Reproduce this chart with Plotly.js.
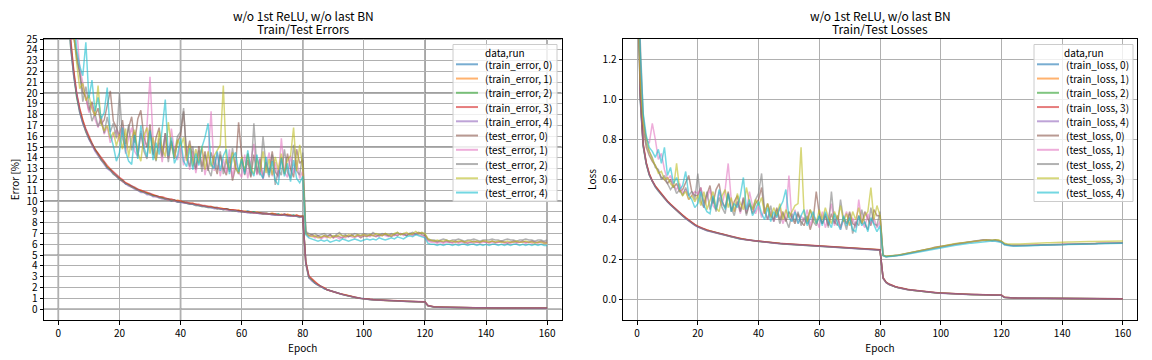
<!DOCTYPE html>
<html><head><meta charset="utf-8">
<script src="https://cdn.plot.ly/plotly-3.0.1.min.js"></script>
<style>html,body{margin:0;padding:0;background:#fff}#chart{width:1152px;height:360px}</style>
</head><body><div id="chart"></div>
<script>
const epochs = [0,1,2,3,4,5,6,7,8,9,10,11,12,13,14,15,16,17,18,19,20,21,22,23,24,25,26,27,28,29,30,31,32,33,34,35,36,37,38,39,40,41,42,43,44,45,46,47,48,49,50,51,52,53,54,55,56,57,58,59,60,61,62,63,64,65,66,67,68,69,70,71,72,73,74,75,76,77,78,79,80,81,82,83,84,85,86,87,88,89,90,91,92,93,94,95,96,97,98,99,100,101,102,103,104,105,106,107,108,109,110,111,112,113,114,115,116,117,118,119,120,121,122,123,124,125,126,127,128,129,130,131,132,133,134,135,136,137,138,139,140,141,142,143,144,145,146,147,148,149,150,151,152,153,154,155,156,157,158,159,160];

const errorNames = ["(train_error, 0)","(train_error, 1)","(train_error, 2)","(train_error, 3)","(train_error, 4)","(test_error, 0)","(test_error, 1)","(test_error, 2)","(test_error, 3)","(test_error, 4)"];
const lossNames = ["(train_loss, 0)","(train_loss, 1)","(train_loss, 2)","(train_loss, 3)","(train_loss, 4)","(test_loss, 0)","(test_loss, 1)","(test_loss, 2)","(test_loss, 3)","(test_loss, 4)"];
const errorYTicks = [0,1,2,3,4,5,6,7,8,9,10,11,12,13,14,15,16,17,18,19,20,21,22,23,24,25];
const errorYMajor = [0,5,10,15,20,25];
const epochTicks = [0,20,40,60,80,100,120,140,160];
const epochMajor = [0,40,80,120,160];
const lossYTicks = [0,0.2,0.4,0.6,0.8,1.0,1.2];

const trainErr0 = [89.5,57.2,40.3,30.1,24.6,21.9,19.7,18.4,17.2,16.6,15.8,15.3,14.7,14.4,13.9,13.6,13.1,12.9,12.6,12.4,
12.1,11.9,11.6,11.5,11.4,11.2,11.1,10.9,10.9,10.7,10.7,10.5,10.5,10.4,10.3,10.2,10.2,10.1,10.1,10.0,
9.9,9.9,9.8,9.8,9.7,9.7,9.6,9.6,9.5,9.5,9.4,9.4,9.4,9.3,9.3,9.3,9.2,9.2,9.1,9.1,
9.1,9.0,9.1,9.0,9.0,8.9,8.9,8.9,8.9,8.8,8.8,8.8,8.8,8.7,8.8,8.7,8.7,8.7,8.6,8.6,
8.6,
4.4,3.0,2.7,2.4,2.3,2.1,1.9,1.8,1.7,1.6,1.5,1.45,1.37,1.3,1.22,1.15,1.1,1.05,1.0,0.96,
0.93,0.9,0.88,0.86,0.84,0.82,0.8,0.79,0.78,0.77,0.76,0.75,0.74,0.73,0.72,0.71,0.7,0.69,0.68,0.67,
0.33,0.24,0.21,0.2,0.19,0.18,0.18,0.17,0.17,0.16,0.16,0.15,0.15,0.15,0.14,0.14,0.14,0.13,0.13,0.13,
0.13,0.12,0.12,0.12,0.12,0.12,0.11,0.11,0.11,0.11,0.11,0.11,0.1,0.1,0.1,0.1,0.1,0.1,0.1,0.1];
const trainErr1 = [90.2,58.1,40.8,30.4,24.9,22.1,19.9,18.5,17.4,16.5,15.9,15.2,14.8,14.3,13.9,13.5,13.2,12.8,12.6,12.3,
12.1,11.8,11.7,11.5,11.3,11.2,11.0,11.0,10.8,10.8,10.6,10.6,10.4,10.4,10.3,10.2,10.1,10.1,10.0,10.1,
10.0,9.9,9.8,9.8,9.8,9.7,9.6,9.6,9.5,9.5,9.5,9.4,9.3,9.4,9.3,9.2,9.2,9.2,9.1,9.2,
9.0,9.1,9.0,9.0,8.9,9.0,8.9,8.8,8.9,8.8,8.9,8.8,8.7,8.8,8.7,8.8,8.7,8.6,8.7,8.6,
8.6,
4.3,3.0,2.7,2.5,2.3,2.1,2.0,1.8,1.7,1.6,1.52,1.44,1.38,1.3,1.23,1.16,1.1,1.04,1.0,0.95,
0.92,0.9,0.88,0.85,0.84,0.82,0.8,0.79,0.78,0.77,0.76,0.75,0.74,0.73,0.72,0.71,0.7,0.69,0.69,0.67,
0.32,0.24,0.21,0.2,0.19,0.18,0.18,0.17,0.17,0.16,0.16,0.15,0.15,0.15,0.14,0.14,0.14,0.13,0.13,0.13,
0.13,0.12,0.12,0.12,0.12,0.11,0.11,0.11,0.11,0.11,0.11,0.1,0.1,0.1,0.1,0.1,0.1,0.1,0.1,0.09];
const trainErr2 = [88.9,56.8,39.9,29.8,24.3,21.7,19.6,18.2,17.3,16.4,15.8,15.3,14.7,14.3,13.8,13.5,13.1,12.9,12.5,12.3,
12.0,11.9,11.6,11.5,11.3,11.2,11.0,10.9,10.8,10.7,10.6,10.5,10.5,10.3,10.3,10.2,10.2,10.0,10.1,9.9,
9.9,9.9,9.8,9.7,9.7,9.6,9.6,9.5,9.5,9.4,9.4,9.4,9.3,9.3,9.2,9.3,9.2,9.1,9.1,9.1,
9.0,9.0,9.0,8.9,9.0,8.9,8.9,8.8,8.8,8.8,8.8,8.7,8.8,8.7,8.7,8.7,8.6,8.7,8.6,8.5,
8.6,
4.2,2.9,2.7,2.4,2.2,2.1,1.9,1.8,1.7,1.6,1.5,1.43,1.36,1.29,1.21,1.15,1.09,1.03,0.99,0.94,
0.91,0.89,0.87,0.85,0.83,0.81,0.8,0.78,0.77,0.76,0.75,0.74,0.73,0.72,0.71,0.7,0.69,0.68,0.67,0.66,
0.31,0.23,0.2,0.19,0.18,0.18,0.17,0.17,0.16,0.16,0.15,0.15,0.15,0.14,0.14,0.14,0.13,0.13,0.13,0.12,
0.12,0.12,0.12,0.11,0.11,0.11,0.11,0.11,0.1,0.1,0.1,0.1,0.1,0.1,0.1,0.09,0.09,0.09,0.09,0.09];
const trainErr3 = [90.5,58.6,40.6,30.6,25.1,22.2,20.0,18.6,17.5,16.7,16.0,15.4,14.8,14.4,14.0,13.7,13.3,13.0,12.7,12.5,
12.2,12.0,11.7,11.6,11.4,11.3,11.1,11.0,10.9,10.8,10.7,10.6,10.5,10.4,10.4,10.3,10.2,10.2,10.1,10.0,
10.0,9.9,9.9,9.8,9.8,9.7,9.7,9.6,9.6,9.5,9.5,9.4,9.4,9.3,9.3,9.3,9.2,9.2,9.2,9.1,
9.1,9.0,9.0,9.0,8.9,8.9,8.9,8.9,8.8,8.8,8.8,8.8,8.7,8.7,8.8,8.7,8.7,8.6,8.7,8.6,
8.6,
4.4,3.1,2.8,2.5,2.3,2.1,2.0,1.8,1.7,1.6,1.5,1.45,1.38,1.3,1.22,1.16,1.1,1.05,1.0,0.96,
0.93,0.91,0.89,0.87,0.85,0.83,0.81,0.8,0.79,0.78,0.77,0.76,0.75,0.74,0.73,0.72,0.71,0.7,0.69,0.68,
0.34,0.25,0.22,0.21,0.2,0.19,0.18,0.18,0.17,0.17,0.16,0.16,0.15,0.15,0.15,0.14,0.14,0.14,0.13,0.13,
0.13,0.13,0.12,0.12,0.12,0.12,0.12,0.11,0.11,0.11,0.11,0.11,0.11,0.1,0.1,0.1,0.1,0.1,0.1,0.1];
const trainErr4 = [89.8,57.5,40.1,30.0,24.4,21.6,19.7,18.2,17.2,16.4,15.7,15.2,14.6,14.2,13.8,13.4,13.0,12.8,12.5,12.2,
12.0,11.8,11.6,11.4,11.3,11.1,11.0,10.8,10.8,10.6,10.6,10.4,10.4,10.3,10.2,10.2,10.1,10.0,10.0,9.9,
9.9,9.8,9.8,9.7,9.7,9.6,9.6,9.5,9.5,9.4,9.4,9.3,9.3,9.3,9.2,9.2,9.1,9.1,9.1,9.0,
9.0,9.0,8.9,8.9,8.9,8.9,8.8,8.8,8.8,8.8,8.7,8.7,8.7,8.7,8.7,8.6,8.6,8.6,8.6,8.5,
8.5,
4.2,2.9,2.6,2.4,2.2,2.1,1.9,1.8,1.7,1.6,1.5,1.43,1.36,1.28,1.2,1.14,1.09,1.03,0.99,0.94,
0.91,0.88,0.86,0.85,0.83,0.81,0.79,0.78,0.77,0.76,0.75,0.74,0.73,0.72,0.71,0.7,0.69,0.68,0.67,0.66,
0.31,0.23,0.2,0.19,0.18,0.17,0.17,0.16,0.16,0.15,0.15,0.15,0.14,0.14,0.14,0.13,0.13,0.13,0.12,0.12,
0.12,0.12,0.11,0.11,0.11,0.11,0.11,0.1,0.1,0.1,0.1,0.1,0.1,0.1,0.09,0.09,0.09,0.09,0.09,0.09];

const testErr0 = [78,52,39,31,27.5,25.2,23.4,21.8,20.1,19.6,18.4,19.2,17.9,18.6,17.1,17.5,18.9,20.2,17.4,16.8,
16.0,17.5,15.3,16.8,17.8,15.4,17.6,18.4,15.9,15.0,17.1,14.3,15.9,16.8,14.2,16.3,14.0,15.6,13.9,15.5,
16.1,18.3,14.2,15.6,13.8,12.9,15.1,13.2,14.6,12.8,14.5,13.4,12.5,14.3,13.0,12.4,14.1,11.9,13.1,17.3,
14.2,12.4,13.8,12.2,14.3,12.5,13.9,12.1,13.6,12.6,14.6,12.7,12.3,14.0,12.5,14.4,13.0,12.2,14.8,13.5,
13.8,
7.1,6.8,6.9,6.7,6.8,6.6,6.8,6.7,6.9,6.6,6.8,6.7,6.6,6.8,6.7,6.9,6.7,6.8,6.6,6.8,
6.7,6.9,6.8,6.7,6.9,6.8,7.0,6.8,6.7,6.9,6.8,7.0,6.9,6.8,7.0,6.9,7.0,7.1,6.9,6.8,
6.4,6.3,6.3,6.2,6.3,6.2,6.3,6.2,6.2,6.3,6.2,6.3,6.2,6.1,6.2,6.3,6.2,6.2,6.3,6.2,
6.2,6.3,6.2,6.2,6.3,6.2,6.1,6.2,6.3,6.2,6.2,6.3,6.2,6.2,6.3,6.2,6.2,6.3,6.2,6.2];
const testErr1 = [80,55,41,33,29.5,27.8,26.1,22.3,21.0,19.4,18.2,18.9,17.6,16.8,17.9,16.2,16.9,15.4,16.1,16.6,
15.5,16.9,14.4,15.9,16.8,14.6,14.1,16.5,14.8,16.9,21.5,15.6,14.0,15.4,13.6,16.1,13.9,16.7,14.6,13.8,
15.2,13.3,14.9,12.9,14.6,12.6,14.1,14.8,12.4,13.9,18.3,12.8,14.5,12.3,13.9,12.6,14.8,12.2,13.8,12.7,
12.2,14.3,12.1,13.7,15.3,12.4,14.0,12.0,13.4,14.5,12.3,13.6,12.1,15.8,12.7,12.2,14.2,12.6,13.8,12.1,
12.8,
7.0,6.7,6.8,6.6,6.7,6.5,6.7,6.6,6.8,6.6,6.7,6.5,6.7,6.6,6.8,6.7,6.6,6.8,6.7,6.9,
6.8,6.7,6.9,6.8,6.7,6.9,6.8,6.7,6.9,6.8,6.9,7.0,6.8,7.0,6.9,6.8,7.0,6.9,6.8,6.7,
6.3,6.2,6.2,6.1,6.2,6.1,6.2,6.2,6.1,6.2,6.1,6.2,6.1,6.2,6.2,6.1,6.2,6.1,6.2,6.2,
6.1,6.2,6.1,6.2,6.2,6.1,6.2,6.1,6.2,6.1,6.2,6.2,6.1,6.2,6.1,6.2,6.1,6.2,6.1,6.1];
const testErr2 = [76,51,40,32,28.2,26.0,23.1,21.9,19.2,20.6,18.8,17.4,18.1,16.9,17.6,16.3,17.8,16.4,17.2,15.8,
20.0,15.8,14.9,17.1,14.7,16.4,14.2,16.3,14.6,13.9,16.6,14.5,13.7,15.8,14.1,16.3,13.6,15.5,14.4,16.0,
16.4,18.6,14.0,13.2,15.1,13.0,14.7,12.7,14.3,13.0,12.3,14.2,12.9,14.6,12.5,13.9,12.7,14.9,13.1,12.5,
13.9,12.7,14.4,12.3,17.2,13.0,12.4,16.0,13.2,12.2,14.3,11.5,12.9,12.4,14.8,12.7,12.1,15.2,12.8,12.4,
14.5,
7.2,7.0,6.9,7.0,6.8,6.9,7.0,6.8,6.9,6.7,6.9,7.1,6.8,6.9,6.7,6.8,7.0,6.9,6.8,7.0,
6.9,6.8,7.1,6.9,6.8,7.0,6.9,6.8,7.0,6.9,7.1,6.9,7.0,6.8,7.0,7.1,6.9,7.0,7.1,6.9,
6.5,6.4,6.4,6.3,6.4,6.5,6.4,6.3,6.4,6.4,6.5,6.4,6.3,6.4,6.4,6.5,6.4,6.3,6.4,6.4,
6.4,6.5,6.4,6.4,6.3,6.4,6.5,6.4,6.4,6.3,6.4,6.4,6.5,6.4,6.4,6.3,6.4,6.4,6.3,6.4];
const testErr3 = [79,54,42,33,28.8,25.6,22.8,20.4,20.9,19.3,19.8,18.5,17.9,20.7,17.2,16.5,17.0,15.8,16.4,15.1,
16.2,14.8,16.7,14.1,15.8,16.6,14.5,13.7,16.1,16.8,14.4,15.9,13.8,16.5,14.9,14.1,17.3,15.1,14.0,15.7,
15.0,15.9,13.7,15.2,13.2,14.8,13.5,15.1,12.9,14.6,13.2,14.2,14.7,15.2,20.7,13.6,12.9,14.5,13.1,12.6,
14.1,12.8,14.4,13.0,12.5,14.0,12.7,14.6,12.6,13.9,12.4,14.1,12.9,14.4,12.5,13.8,14.2,16.8,12.8,15.2,
13.1,
7.0,6.8,6.7,6.8,6.6,6.7,6.8,6.7,6.6,6.8,6.7,6.9,6.8,6.7,6.9,6.8,6.7,6.9,6.8,6.9,
6.8,6.9,6.8,7.0,6.9,6.8,7.0,6.9,6.8,7.0,7.1,6.9,7.0,7.1,6.9,7.0,7.2,7.0,7.1,7.0,
6.5,6.4,6.3,6.4,6.3,6.3,6.4,6.3,6.3,6.2,6.3,6.3,6.2,6.3,6.3,6.2,6.3,6.2,6.3,6.3,
6.2,6.3,6.2,6.3,6.2,6.2,6.3,6.2,6.2,6.3,6.2,6.2,6.3,6.2,6.2,6.1,6.2,6.2,6.1,6.1];
const testErr4 = [81,57,43,34,29.1,27.3,24.0,22.5,21.6,24.7,19.5,21.2,18.3,19.6,17.6,18.2,20.5,16.2,15.1,13.7,
14.5,16.8,14.6,13.7,13.4,16.1,13.9,17.0,15.0,14.1,16.5,13.8,15.4,14.3,16.7,19.4,14.2,15.9,13.5,14.2,
15.8,13.7,13.2,14.9,12.9,14.4,13.3,15.0,15.9,17.2,13.4,13.0,14.6,12.8,14.2,14.8,12.5,14.0,14.5,12.7,
13.9,12.5,14.7,12.9,12.3,14.3,12.6,12.1,14.1,12.4,13.7,11.9,11.5,14.0,12.3,13.5,11.8,13.8,12.1,11.7,
12.3,
6.9,6.6,6.5,6.4,6.3,6.4,6.3,6.4,6.2,6.3,6.4,6.3,6.5,6.4,6.3,6.4,6.5,6.4,6.3,6.4,
6.5,6.4,6.5,6.4,6.6,6.5,6.4,6.5,6.6,6.5,6.7,6.6,6.5,6.7,6.8,6.7,6.9,6.8,6.7,6.6,
6.1,6.0,6.0,5.9,6.0,5.9,6.0,6.0,5.9,6.0,5.9,6.0,6.0,5.9,6.0,6.0,5.9,6.0,5.9,6.0,
5.9,6.0,6.0,5.9,6.0,5.9,6.0,5.9,6.0,6.0,5.9,6.0,5.9,6.0,5.9,6.0,5.9,6.0,5.9,5.9];

const trainLoss0 = [1.9,1.02,.77,.68,.625,.59,.565,.545,.525,.507,.49,.475,.46,.446,.433,.42,.407,.395,.384,.374,
.365,.358,.352,.347,.343,.339,.335,.331,.327,.322,.318,.314,.311,.308,.305,.302,.3,.297,.295,.293,
.292,.29,.288,.287,.285,.284,.282,.281,.28,.279,.277,.276,.275,.274,.273,.272,.271,.27,.269,.268,
.266,.265,.264,.263,.263,.262,.261,.26,.259,.258,.257,.257,.256,.255,.254,.254,.253,.252,.251,.25,
.249,
.11,.088,.078,.071,.066,.062,.058,.055,.052,.05,.048,.046,.044,.042,.04,.039,.037,.036,.035,.034,
.033,.032,.031,.031,.03,.029,.029,.028,.028,.027,.027,.026,.026,.025,.025,.025,.024,.024,.024,.023,
.013,.011,.01,.01,.009,.009,.009,.009,.008,.008,.008,.008,.008,.008,.008,.007,.007,.007,.007,.007,
.007,.007,.007,.007,.007,.006,.006,.006,.006,.006,.006,.006,.006,.006,.006,.006,.006,.006,.006,.006];
const trainLoss1 = [1.92,1.03,.775,.683,.628,.592,.567,.546,.527,.508,.492,.476,.461,.447,.434,.421,.408,.396,.385,.375,
.366,.359,.353,.348,.343,.34,.336,.331,.328,.323,.319,.315,.312,.308,.306,.303,.3,.298,.296,.294,
.292,.291,.289,.287,.286,.284,.283,.281,.28,.279,.278,.277,.276,.274,.273,.273,.272,.27,.269,.268,
.267,.266,.265,.264,.263,.262,.261,.26,.259,.259,.258,.257,.256,.255,.255,.254,.253,.252,.252,.251,
.25,
.108,.087,.078,.071,.066,.062,.058,.055,.052,.05,.048,.046,.044,.042,.041,.039,.038,.036,.035,.034,
.033,.032,.032,.031,.03,.03,.029,.028,.028,.027,.027,.026,.026,.025,.025,.025,.024,.024,.023,.023,
.013,.011,.01,.01,.009,.009,.009,.009,.008,.008,.008,.008,.008,.008,.007,.007,.007,.007,.007,.007,
.007,.007,.007,.007,.006,.006,.006,.006,.006,.006,.006,.006,.006,.006,.006,.006,.005,.005,.005,.005];
const trainLoss2 = [1.88,1.01,.765,.677,.622,.588,.563,.543,.524,.506,.489,.474,.459,.445,.432,.419,.406,.394,.383,.373,
.364,.357,.351,.346,.342,.338,.334,.33,.326,.322,.318,.314,.31,.307,.304,.302,.299,.297,.295,.293,
.291,.29,.288,.286,.285,.283,.282,.281,.279,.278,.277,.276,.275,.274,.273,.272,.271,.27,.268,.267,
.266,.265,.264,.263,.262,.261,.26,.26,.259,.258,.257,.256,.255,.255,.254,.253,.252,.252,.251,.25,
.249,
.109,.087,.077,.07,.065,.061,.057,.054,.052,.049,.047,.045,.043,.042,.04,.039,.037,.036,.035,.034,
.033,.032,.031,.03,.03,.029,.028,.028,.027,.027,.026,.026,.025,.025,.025,.024,.024,.023,.023,.023,
.012,.01,.01,.009,.009,.009,.008,.008,.008,.008,.008,.008,.007,.007,.007,.007,.007,.007,.007,.007,
.007,.006,.006,.006,.006,.006,.006,.006,.006,.006,.006,.006,.006,.005,.005,.005,.005,.005,.005,.005];
const trainLoss3 = [1.93,1.04,.78,.685,.63,.594,.568,.548,.528,.51,.493,.478,.463,.449,.436,.423,.41,.398,.386,.376,
.367,.36,.354,.349,.344,.34,.336,.332,.328,.324,.32,.316,.312,.309,.306,.303,.301,.298,.296,.294,
.293,.291,.289,.288,.286,.285,.283,.282,.281,.28,.278,.277,.276,.275,.274,.273,.272,.271,.27,.269,
.267,.266,.265,.264,.264,.263,.262,.261,.26,.259,.258,.257,.257,.256,.255,.254,.254,.253,.252,.251,
.25,
.112,.089,.079,.072,.067,.063,.059,.056,.053,.051,.049,.047,.045,.043,.041,.04,.038,.037,.036,.035,
.034,.033,.032,.031,.031,.03,.029,.029,.028,.028,.027,.027,.026,.026,.025,.025,.025,.024,.024,.024,
.013,.011,.011,.01,.01,.009,.009,.009,.009,.008,.008,.008,.008,.008,.008,.008,.007,.007,.007,.007,
.007,.007,.007,.007,.007,.007,.007,.006,.006,.006,.006,.006,.006,.006,.006,.006,.006,.006,.006,.006];
const trainLoss4 = [1.89,1.0,.768,.678,.623,.588,.562,.542,.523,.505,.488,.473,.458,.444,.431,.418,.405,.393,.382,.372,
.363,.356,.35,.345,.341,.337,.333,.329,.325,.321,.317,.313,.31,.307,.304,.301,.299,.296,.294,.292,
.29,.289,.287,.286,.284,.283,.281,.28,.279,.278,.276,.275,.274,.273,.272,.271,.27,.269,.268,.267,
.265,.264,.263,.263,.262,.261,.26,.259,.258,.257,.256,.256,.255,.254,.253,.253,.252,.251,.25,.249,
.248,
.107,.086,.077,.07,.065,.061,.057,.054,.051,.049,.047,.045,.043,.041,.04,.038,.037,.036,.034,.033,
.032,.031,.031,.03,.029,.029,.028,.028,.027,.027,.026,.026,.025,.025,.024,.024,.024,.023,.023,.023,
.012,.01,.01,.009,.009,.009,.008,.008,.008,.008,.008,.007,.007,.007,.007,.007,.007,.007,.007,.007,
.006,.006,.006,.006,.006,.006,.006,.006,.006,.006,.006,.006,.005,.005,.005,.005,.005,.005,.005,.005];

const testLoss0 = [1.85,1.12,.86,.76,.72,.69,.67,.64,.61,.6,.58,.6,.56,.58,.54,.55,.59,.62,.54,.52,
.52,.56,.48,.53,.57,.48,.55,.58,.49,.46,.54,.44,.49,.52,.44,.5,.43,.48,.43,.48,
.5,.56,.43,.48,.42,.4,.46,.4,.44,.39,.44,.41,.38,.43,.39,.37,.42,.35,.4,.54,
.43,.38,.42,.37,.43,.38,.42,.36,.41,.38,.44,.38,.37,.42,.38,.44,.4,.37,.45,.42,
.42,
.224,.216,.217,.218,.22,.222,.225,.228,.233,.236,.238,.242,.245,.248,.251,.254,.258,.262,.264,.268,
.27,.272,.274,.276,.279,.281,.283,.285,.288,.29,.292,.294,.296,.298,.3,.298,.296,.299,.295,.29,
.278,.274,.272,.271,.27,.27,.271,.271,.272,.272,.273,.273,.274,.274,.275,.275,.276,.276,.276,.277,
.277,.278,.278,.278,.279,.279,.28,.28,.28,.281,.281,.282,.282,.282,.283,.283,.283,.284,.284,.284];
const testLoss1 = [1.95,1.2,.9,.8,.78,.88,.8,.7,.73,.65,.6,.62,.57,.55,.58,.53,.55,.5,.52,.54,
.53,.56,.46,.51,.55,.47,.45,.54,.47,.55,.68,.5,.44,.49,.43,.51,.44,.54,.47,.43,
.47,.41,.46,.4,.44,.39,.43,.46,.38,.42,.62,.39,.45,.38,.42,.39,.45,.37,.42,.4,
.36,.44,.36,.41,.48,.37,.42,.35,.4,.44,.37,.41,.36,.5,.39,.36,.43,.38,.41,.36,
.39,
.221,.215,.216,.218,.219,.222,.224,.227,.231,.234,.237,.24,.243,.247,.25,.253,.256,.26,.263,.266,
.269,.271,.273,.275,.278,.28,.282,.285,.287,.289,.291,.293,.296,.297,.295,.297,.294,.296,.293,.288,
.276,.272,.27,.269,.269,.27,.27,.271,.271,.272,.272,.273,.273,.274,.274,.275,.275,.275,.276,.276,
.277,.277,.277,.278,.278,.279,.279,.279,.28,.28,.28,.281,.281,.282,.282,.282,.283,.283,.283,.284];
const testLoss2 = [2.0,1.3,.92,.78,.74,.71,.66,.65,.6,.62,.58,.55,.57,.53,.55,.52,.56,.52,.54,.5,
.63,.49,.46,.54,.45,.51,.44,.51,.46,.43,.53,.46,.42,.49,.44,.51,.42,.48,.45,.5,
.53,.63,.44,.4,.47,.39,.45,.38,.43,.4,.36,.43,.39,.44,.37,.41,.38,.45,.39,.37,
.42,.38,.43,.36,.54,.39,.37,.5,.4,.35,.43,.33,.39,.37,.45,.38,.35,.46,.38,.37,
.44,
.223,.217,.218,.219,.222,.223,.226,.229,.232,.235,.239,.241,.245,.247,.25,.254,.257,.26,.264,.267,
.27,.273,.275,.277,.279,.282,.284,.286,.288,.291,.293,.295,.298,.3,.297,.299,.297,.3,.296,.291,
.279,.275,.273,.272,.271,.271,.272,.272,.273,.273,.274,.274,.275,.275,.275,.276,.276,.277,.277,.277,
.278,.278,.279,.279,.279,.28,.28,.28,.281,.281,.282,.282,.282,.283,.283,.283,.284,.284,.284,.285];
const testLoss3 = [1.7,1.1,.88,.8,.74,.7,.67,.63,.64,.6,.61,.58,.56,.68,.55,.52,.54,.5,.52,.49,
.52,.47,.54,.45,.5,.54,.46,.44,.52,.55,.46,.51,.44,.53,.48,.45,.56,.49,.45,.5,
.47,.51,.43,.48,.41,.46,.42,.48,.4,.45,.41,.44,.47,.48,.76,.43,.39,.45,.41,.38,
.45,.4,.46,.41,.38,.44,.4,.47,.39,.43,.37,.44,.4,.46,.38,.42,.44,.56,.4,.47,
.42,
.222,.218,.219,.22,.222,.224,.227,.23,.233,.237,.24,.243,.246,.249,.252,.256,.26,.263,.267,.27,
.273,.275,.277,.279,.281,.283,.285,.287,.29,.292,.294,.296,.298,.3,.299,.297,.298,.296,.3,.293,
.282,.279,.278,.278,.279,.279,.28,.28,.281,.282,.282,.283,.283,.284,.285,.285,.286,.286,.287,.287,
.288,.288,.288,.289,.289,.29,.29,.29,.291,.291,.291,.292,.292,.292,.293,.293,.293,.294,.294,.294];
const testLoss4 = [1.9,1.25,.93,.82,.76,.74,.71,.75,.68,.76,.62,.66,.58,.61,.55,.57,.64,.52,.5,.46,
.48,.54,.47,.44,.43,.52,.45,.55,.49,.45,.53,.44,.48,.46,.52,.61,.45,.5,.42,.45,
.49,.43,.4,.46,.39,.44,.41,.46,.49,.55,.41,.39,.44,.38,.42,.45,.37,.41,.44,.38,
.42,.37,.44,.39,.36,.43,.38,.35,.42,.37,.41,.35,.34,.42,.37,.39,.34,.41,.37,.34,
.37,
.22,.214,.215,.216,.218,.22,.222,.225,.228,.231,.234,.237,.24,.243,.246,.249,.252,.255,.258,.261,
.264,.266,.268,.27,.272,.275,.277,.279,.281,.283,.285,.287,.289,.291,.293,.292,.294,.292,.29,.286,
.274,.271,.269,.268,.268,.268,.269,.269,.27,.27,.271,.271,.272,.272,.273,.273,.274,.274,.274,.275,
.275,.276,.276,.276,.277,.277,.278,.278,.278,.279,.279,.28,.28,.28,.281,.281,.281,.282,.282,.282];

const errorSeries = [trainErr0,trainErr1,trainErr2,trainErr3,trainErr4,testErr0,testErr1,testErr2,testErr3,testErr4];
const lossSeries = [trainLoss0,trainLoss1,trainLoss2,trainLoss3,trainLoss4,testLoss0,testLoss1,testLoss2,testLoss3,testLoss4];

// ---- styling / layout ----
const W = 1152, H = 360;
const FONT = '"Noto Sans CJK JP", "Noto Sans", sans-serif';
const colors = ['#1f77b4','#ff7f0e','#2ca02c','#d62728','#9467bd','#8c564b','#e377c2','#7f7f7f','#bcbd22','#17becf'];
const ALPHA = 0.6;
const px = x => x / W, py = y => 1 - y / H;
const LIGHT = '#b0b0b0', DARK = '#808080';

const traces = [];
errorSeries.forEach((s, i) => traces.push({x: epochs, y: s, name: errorNames[i], type: 'scatter', mode: 'lines',
  xaxis: 'x', yaxis: 'y', line: {color: colors[i], width: 1.5}, opacity: ALPHA, showlegend: false}));
lossSeries.forEach((s, i) => traces.push({x: epochs, y: s, name: lossNames[i], type: 'scatter', mode: 'lines',
  xaxis: 'x2', yaxis: 'y2', line: {color: colors[i], width: 1.5}, opacity: ALPHA, showlegend: false}));

const shapes = [], annotations = [];
// darker major gridlines on the error plot
epochMajor.forEach(v => shapes.push({type: 'line', xref: 'x', yref: 'y domain', x0: v, x1: v, y0: 0, y1: 1,
  line: {color: DARK, width: 1.5}, layer: 'below'}));
errorYMajor.forEach(v => shapes.push({type: 'line', xref: 'x domain', yref: 'y', x0: 0, x1: 1, y0: v, y1: v,
  line: {color: DARK, width: 1.5}, layer: 'below'}));

function addLegend(names, box) {
  shapes.push({type: 'rect', xref: 'paper', yref: 'paper', x0: px(box.x0), x1: px(box.x1), y0: py(box.y1), y1: py(box.y0),
    fillcolor: 'rgba(255,255,255,0.8)', line: {color: '#cccccc', width: 1}, layer: 'above'});
  annotations.push({xref: 'paper', yref: 'paper', x: px((box.x0 + box.x1) / 2), y: py(box.titleY), text: 'data,run',
    showarrow: false, xanchor: 'center', yanchor: 'middle', font: {family: FONT, size: 10, color: '#000'}});
  names.forEach((n, i) => {
    const yy = box.first + i * box.step;
    shapes.push({type: 'line', xref: 'paper', yref: 'paper', x0: px(box.lx0), x1: px(box.lx1), y0: py(yy), y1: py(yy),
      line: {color: colors[i], width: 2}, opacity: ALPHA, layer: 'above'});
    annotations.push({xref: 'paper', yref: 'paper', x: px(box.tx), y: py(yy), text: n, showarrow: false,
      xanchor: 'left', yanchor: 'middle', font: {family: FONT, size: 10, color: '#000'}});
  });
}
addLegend(errorNames, {x0: 453, x1: 557, y0: 44.5, y1: 201.5, titleY: 52.5, first: 64.3, step: 14.25, lx0: 456, lx1: 478, tx: 483});
addLegend(lossNames, {x0: 1034, x1: 1133, y0: 44.5, y1: 201.5, titleY: 52.5, first: 64.3, step: 14.25, lx0: 1037, lx1: 1059, tx: 1064});

function title(cx, lines) {
  annotations.push({xref: 'paper', yref: 'paper', x: px(cx), y: py(16), text: lines[0], showarrow: false,
    xanchor: 'center', yanchor: 'middle', font: {family: FONT, size: 12, color: '#000'}});
  annotations.push({xref: 'paper', yref: 'paper', x: px(cx), y: py(28.5), text: lines[1], showarrow: false,
    xanchor: 'center', yanchor: 'middle', font: {family: FONT, size: 12, color: '#000'}});
}
title(303, ['w/o 1st ReLU, w/o last BN', 'Train/Test Errors']);
title(880, ['w/o 1st ReLU, w/o last BN', 'Train/Test Losses']);

const tickFont = {family: FONT, size: 10, color: '#000'};
const common = {showline: true, mirror: true, linecolor: '#000', linewidth: 1, ticks: 'outside', ticklen: 3.5,
  tickwidth: 1, tickcolor: '#000', tickfont: tickFont, zeroline: false, showgrid: true, gridcolor: LIGHT, gridwidth: 1,
  automargin: false, fixedrange: true};

const layout = {
  width: W, height: H, margin: {l: 0, r: 0, t: 0, b: 0}, paper_bgcolor: '#fff', plot_bgcolor: '#fff',
  showlegend: false, hovermode: false, font: {family: FONT, size: 10, color: '#000'},
  xaxis: Object.assign({}, common, {domain: [px(44), px(561.5)], anchor: 'y', range: [-4.7, 164.7],
    tickvals: epochTicks, title: {text: 'Epoch', font: {family: FONT, size: 10, color: '#000'}, standoff: 0}}),
  yaxis: Object.assign({}, common, {domain: [py(320), py(39)], anchor: 'x', range: [-1, 25],
    tickvals: errorYTicks, title: {text: 'Error [%]', font: {family: FONT, size: 10, color: '#000'}, standoff: 4}}),
  xaxis2: Object.assign({}, common, {domain: [px(623), px(1137)], anchor: 'y2', range: [-4.65, 164.65],
    tickvals: epochTicks, title: {text: 'Epoch', font: {family: FONT, size: 10, color: '#000'}, standoff: 0}}),
  yaxis2: Object.assign({}, common, {domain: [py(320), py(39)], anchor: 'x2', range: [-0.1, 1.3],
    tickvals: lossYTicks, tickformat: '.1f', title: {text: 'Loss', font: {family: FONT, size: 10, color: '#000'}, standoff: 4}}),
  shapes: shapes, annotations: annotations
};

Plotly.newPlot('chart', traces, layout, {staticPlot: true, displayModeBar: false});
</script>
</body></html>
